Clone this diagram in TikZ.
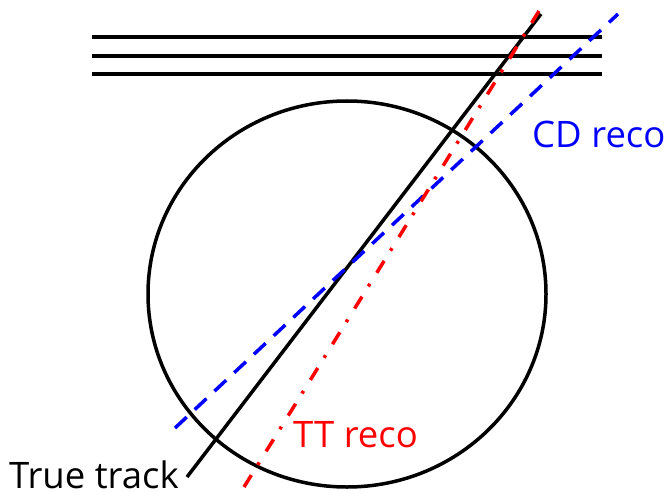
\documentclass[tikz,border=0pt]{standalone}
\usepackage{fontspec}
\setmainfont{Open Sans}
\begin{document}
\begin{tikzpicture}[x=1pt,y=-1pt,
  blk/.style={line width=3.5pt,black},
  cdline/.style={line width=3.5pt,blue,dash pattern=on 16pt off 11pt},
  ttline/.style={line width=3.5pt,red,dash pattern=on 14pt off 12pt on 3pt off 13pt},
  lbl/.style={inner sep=0pt,anchor=base west,font=\fontsize{36.5}{36.5}\selectfont}]
\useasboundingbox (0,0) rectangle (671,492);
\fill[white] (0,0) rectangle (671,492);
% layers
\coordinate (l1a) at (92,37); \coordinate (l1b) at (602,37);
\coordinate (l2a) at (92,56); \coordinate (l2b) at (602,56);
\coordinate (l3a) at (92,74); \coordinate (l3b) at (602,74);
\draw[blk] (l1a) -- (l1b);
\draw[blk] (l2a) -- (l2b);
\draw[blk] (l3a) -- (l3b);
% detector
\coordinate (cd) at (347,294);
\draw[line width=3.5pt] (cd) ellipse [x radius=199, y radius=193];
% tracks
\coordinate (tA) at (187,477); \coordinate (tB) at (541,14);
\draw[blk] (tA) -- (tB);
\coordinate (bA) at (175,428); \coordinate (bB) at (618,14);
\draw[cdline] (bA) -- (bB);
\coordinate (rA) at (244,487); \coordinate (rB) at (539,11);
\draw[ttline] (rA) -- (rB);
% labels
\node[lbl,blue] (cdlbl) at (532,147) {CD reco};
\node[lbl,red] (ttlbl) at (293,447) {TT reco};
\node[lbl,black] (truelbl) at (9,488) {True track};
\end{tikzpicture}
\end{document}
